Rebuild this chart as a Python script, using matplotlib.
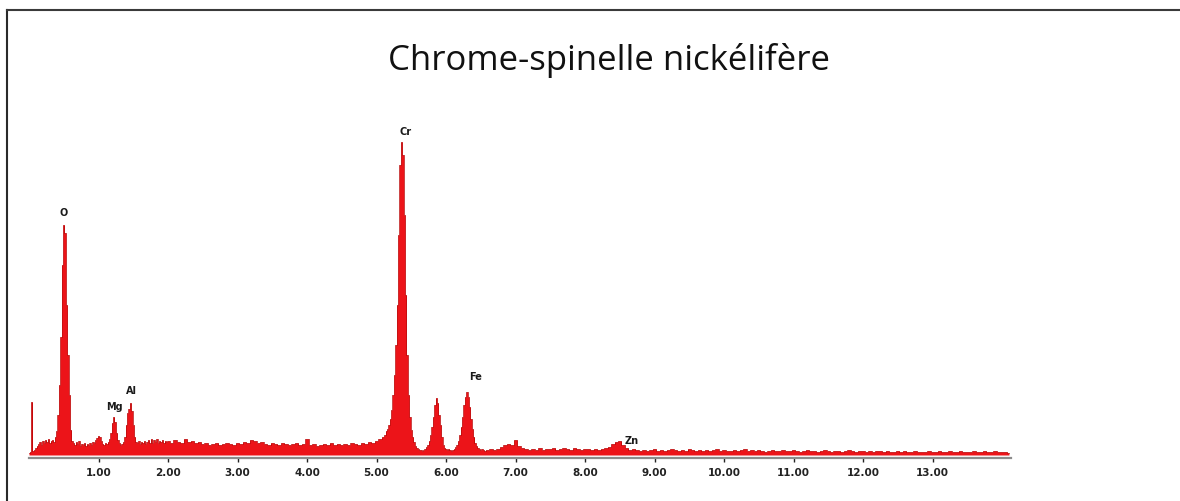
import numpy as np
import matplotlib
matplotlib.use("Agg")
import matplotlib.pyplot as plt
from matplotlib.lines import Line2D

# ---------------- data (counts in arbitrary units, energies in keV) ----------------
title = "Chrome-spinelle nickélifère"

# segment 1 : 0.00 -> 1.98 keV, 0.02 keV channels
seg1_start, seg1_step = 0.00, 0.02
seg1_counts = [2, 3, 53, 4, 5, 7, 9, 11, 13, 10, 14, 12, 15, 13, 16, 12, 14, 15, 13, 18,
               24, 40, 70, 118, 190, 230, 222, 150, 100, 60, 25, 14, 12, 10, 13, 11, 14, 9, 11, 10,
               12, 9, 11, 10, 12, 10, 13, 12, 15, 17, 19, 18, 14, 11, 10, 12, 11, 13, 16, 22,
               32, 38, 33, 22, 15, 12, 10, 11, 13, 18, 30, 42, 46, 52, 44, 30, 18, 13, 12, 14,
               11, 13, 12, 14, 11, 13, 15, 12, 16, 12, 15, 13, 16, 12, 14, 13, 15, 12, 14, 13]

# segment 2 : 2.00 -> 5.10 keV, 0.05 keV channels
seg2_start, seg2_step = 2.00, 0.05
seg2_counts = [14, 12, 15, 13, 12, 16, 13, 14, 12, 13, 11,
               12, 10, 11, 12, 10, 11, 12, 11, 10, 12,
               11, 13, 12, 15, 14, 12, 13, 11, 10, 12,
               11, 10, 12, 11, 10, 11, 12, 10, 11, 16,
               10, 11, 9, 10, 11, 10, 12, 10, 11, 10,
               11, 10, 12, 11, 10, 12, 11, 13, 12, 14, 16, 18]

# segment 3 : 5.12 -> 6.58 keV, 0.02 keV channels (Cr Ka, Cr Kb, Fe Ka)
seg3_start, seg3_step = 5.12, 0.02
seg3_counts = [20, 24, 26, 30, 36, 45, 60, 80, 110, 150, 220, 290, 313, 300, 240, 160, 100, 60, 38, 25,
               18, 13, 9, 7, 6, 5, 5, 4, 5, 6, 8, 10, 14, 20, 28, 38, 50, 57, 52, 40,
               30, 18, 10, 7, 6, 5, 6, 5, 4, 5, 6, 8, 10, 14, 20, 28, 38, 50, 58, 63,
               58, 48, 36, 26, 18, 12, 9, 7, 6, 5, 6, 5, 4, 5]

# segment 4 : 6.60 -> 14.10 keV, 0.05 keV channels
seg4_start, seg4_step = 6.60, 0.05
seg4_counts = [5, 6, 5, 6, 8, 10, 11, 10, 15, 9, 7,
               6, 5, 6, 5, 7, 5, 6, 6, 7, 5, 6, 7, 6, 5, 7, 6, 5, 6,
               6, 5, 6, 5, 6, 7, 8, 11, 13, 14, 10, 7, 5, 6, 5, 4,
               5, 4, 5, 6, 4, 5, 4, 5, 6, 5, 4, 5, 4, 6, 5, 4, 5, 4, 5, 4,
               5, 6, 4, 5, 4, 4, 5, 4, 5, 6, 4, 5, 4, 5, 4, 3, 4, 5, 4, 4,
               5, 4, 4, 5, 4, 3, 4, 5, 4, 4, 3, 4, 5, 4, 3, 4, 4, 3, 4, 5,
               4, 3, 4, 4, 3, 4, 3, 4, 4, 3, 4, 3, 3, 4, 3, 4, 3, 3, 4, 3,
               3, 3, 4, 3, 3, 4, 3, 3, 4, 3, 3, 4, 3, 3, 3, 4, 3, 3, 4, 3,
               3, 4, 3, 3, 3, 2]

tick_values = [1, 2, 3, 4, 5, 6, 7, 8, 9, 10, 11, 12, 13]
tick_labels = ["1.00", "2.00", "3.00", "4.00", "5.00", "6.00", "7.00",
               "8.00", "9.00", "10.00", "11.00", "12.00", "13.00"]

peak_names = ["O", "Mg", "Al", "Cr", "Fe", "Zn"]
peak_energy = [0.50, 1.25, 1.48, 5.37, 6.34, 8.55]

# ---------------- build spectrum ----------------
segments = [(seg1_start, seg1_step, seg1_counts), (seg2_start, seg2_step, seg2_counts),
            (seg3_start, seg3_step, seg3_counts), (seg4_start, seg4_step, seg4_counts)]
E = np.concatenate([s + st * np.arange(len(c)) for s, st, c in segments])
C = np.concatenate([np.asarray(c, float) for _, _, c in segments])

# ---------------- figure ----------------
W, H = 1180, 501
fig = plt.figure(figsize=(W / 100, H / 100), dpi=100)
fig.patch.set_facecolor("white")

x0_px, x1_px = 29, 1011
axis_px, top_px = 458, 100
ax = fig.add_axes([x0_px / W, (H - axis_px) / H, (x1_px - x0_px) / W, (axis_px - top_px) / H])
ax.set_xlim(0, (x1_px - x0_px) / 69.5)
ax.set_ylim(-3, axis_px - top_px - 3)

ax.fill_between(E, 0, C, step="mid", color="#ec1419", linewidth=0)
ax.step(E, C, where="mid", color="#b80000", linewidth=0.5)

for s in ["left", "right", "top"]:
    ax.spines[s].set_visible(False)
ax.spines["bottom"].set_color("#8c8c8c")
ax.spines["bottom"].set_linewidth(1.6)
ax.set_yticks([])
ax.set_xticks(tick_values)
ax.set_xticklabels(tick_labels, fontsize=7.5, fontweight="bold", color="#222222",
                   family="DejaVu Sans")
ax.tick_params(axis="x", direction="out", length=3, width=1, color="#222222", pad=4)
ax.set_facecolor("none")

# peak labels
offsets = {"O": (0.0, 12), "Mg": (-0.02, 10), "Al": (0.0, 12),
           "Cr": (0.05, 10), "Fe": (0.09, 15), "Zn": (0.12, 0)}
for name, en in zip(peak_names, peak_energy):
    m = (E > en - 0.06) & (E < en + 0.06)
    top = C[m].max()
    dx, dy = offsets[name]
    ax.text(en + dx, top + dy, name, ha="center", va="center", fontsize=7,
            fontweight="bold", color="#1a1a1a", family="DejaVu Sans")

# title
fig.text(609.5 / W, (H - 70) / H, title, ha="center", va="baseline", fontsize=25,
         family="Open Sans", color="#111111")

# frame lines
fig.add_artist(Line2D([6.5 / W, 6.5 / W], [0, (H - 10) / H], color="#2a2a2a", lw=1.5))
fig.add_artist(Line2D([6.5 / W, 1.0], [(H - 10) / H, (H - 10) / H], color="#3a3a3a", lw=1.5))

fig.savefig("out.png", dpi=100)
